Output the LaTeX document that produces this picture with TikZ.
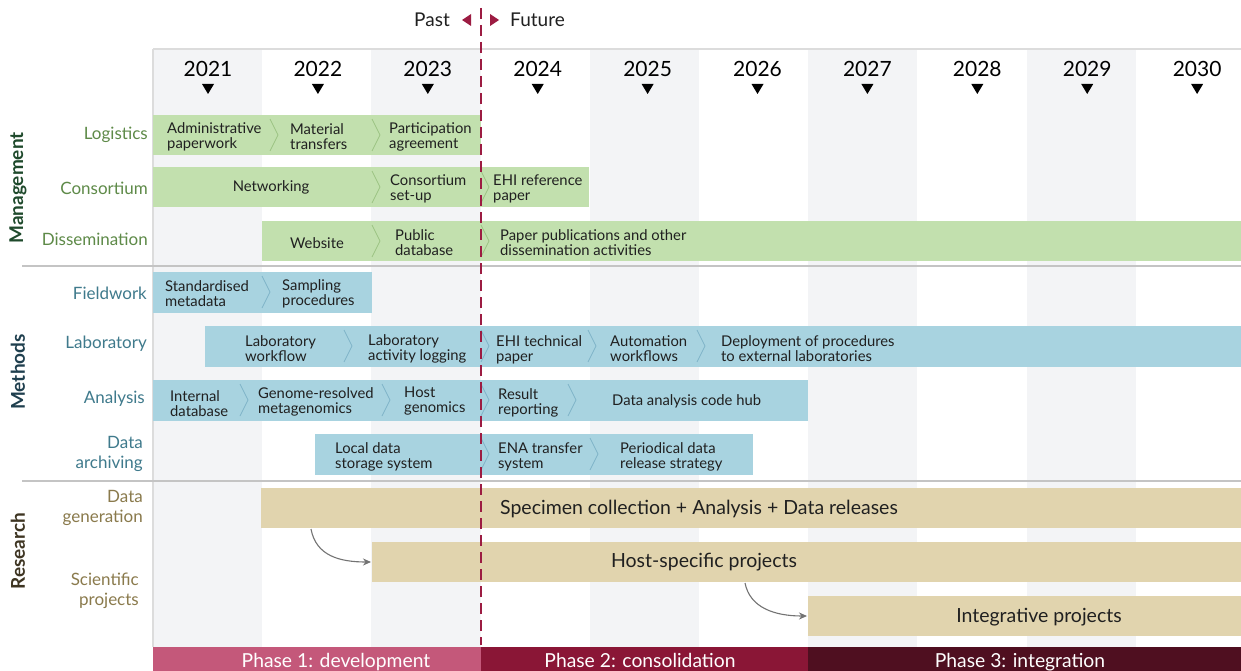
\documentclass[tikz,border=0pt]{standalone}
\usepackage{fontspec}
\setmainfont{Lato}
\usetikzlibrary{arrows.meta}
\definecolor{colshade}{HTML}{F3F4F6}
\definecolor{gridl}{HTML}{DCDCDC}
\definecolor{sepl}{HTML}{C4C4C4}
\definecolor{gfill}{HTML}{C2E0AE}
\definecolor{gchev}{HTML}{9CC383}
\definecolor{bfill}{HTML}{A8D3E0}
\definecolor{bchev}{HTML}{7FB4C8}
\definecolor{tfill}{HTML}{E1D4AE}
\definecolor{crim}{HTML}{9C1C42}
\definecolor{ph1}{HTML}{C4587A}
\definecolor{ph2}{HTML}{8A1636}
\definecolor{ph3}{HTML}{4F0F20}
\definecolor{mgreen}{HTML}{5E8A48}
\definecolor{mteal}{HTML}{3F7A8C}
\definecolor{mtan}{HTML}{8A7A4C}
\definecolor{dgreen}{HTML}{1F4A2C}
\definecolor{dteal}{HTML}{1F3F4E}
\definecolor{dtan}{HTML}{3E3522}
\definecolor{txt}{HTML}{202020}
\tikzset{
  bartext/.style={font=\fontsize{14.8}{15}\selectfont, anchor=west, align=left, inner sep=0pt, text=txt, yshift=-1.5pt},
  bigtext/.style={font=\fontsize{19.5}{20}\selectfont, inner sep=0pt, text=txt},
  rowlab/.style={font=\fontsize{17}{20}\selectfont, anchor=east, align=right, inner sep=0pt},
  seclab/.style={font=\fontsize{19}{20}\selectfont\bfseries, rotate=90, inner sep=0pt},
  yearlab/.style={font=\fontsize{21}{22}\selectfont, inner sep=0pt, text=black},
  phlab/.style={font=\fontsize{19.3}{20}\selectfont, inner sep=0pt, text=white, anchor=base},
  gchevron/.style={draw=gchev, line width=0.8pt},
  bchevron/.style={draw=bchev, line width=0.8pt},
  tanbar/.style={fill=tfill, draw=none, inner sep=0pt, anchor=north west},
  flowarrow/.style={draw=black!55, line width=1.1pt, -{Stealth[length=8pt,width=7pt]}},
}
\newcommand\chv[3]{\draw[#3] (#1,#2-16) -- (#1+8,#2) -- (#1,#2+16);}
\begin{document}
\begin{tikzpicture}[x=1pt,y=-1pt]
\useasboundingbox (0,0) rectangle (1241,671);
\fill[white] (0,0) rectangle (1241,671);
% column shading
\foreach \i in {0,2,4,6,8} {
  \fill[colshade] (153+109.2*\i,49) rectangle (153+109.2*\i+109.2,647);
}
\draw[gridl, line width=1.2pt] (153,49) -- (1241,49);
\draw[gridl, line width=1.2pt] (153,49) -- (153,647);
% years
\foreach \y [count=\k from 0] in {2021,2022,2023,2024,2025,2026,2027,2028,2029,2030} {
  \node[yearlab] (yr\y) at (208+109.9*\k,69) {\y};
  \fill[black] (202+109.9*\k,84) -- (214+109.9*\k,84) -- (208+109.9*\k,94) -- cycle;
}
% separators
\draw[sepl, line width=1.5pt] (22,266) -- (1241,266);
\draw[sepl, line width=1.5pt] (22,481) -- (1241,481);

% ---------- Management ----------
% Logistics
\fill[gfill] (153,115) rectangle (481,155);
\chv{270}{135}{gchevron}
\chv{372}{135}{gchevron}
\node[bartext] (l1) at (167,135) {Administrative\\paperwork};
\node[bartext] (l2) at (290,135) {Material\\transfers};
\node[bartext] (l3) at (389,135) {Participation\\agreement};
% Consortium
\fill[gfill] (153,167) rectangle (589,207);
\chv{372}{187}{gchevron}
\chv{481}{187}{gchevron}
\node[bartext, anchor=center] (c1) at (271,186) {Networking};
\node[bartext] (c2) at (390,187) {Consortium\\set-up};
\node[bartext] (c3) at (493,187) {EHI reference\\paper};
% Dissemination
\fill[gfill] (262,221) rectangle (1241,261);
\chv{372}{241}{gchevron}
\chv{481}{241}{gchevron}
\node[bartext, anchor=center] (d1) at (317,242) {Website};
\node[bartext] (d2) at (395,241) {Public\\database};
\node[bartext] (d3) at (500,241) {Paper publications and other\\dissemination activities};

% ---------- Methods ----------
% Fieldwork
\fill[bfill] (153,272) rectangle (372,313);
\chv{262}{292}{bchevron}
\node[bartext] (f1) at (165,292) {Standardised\\metadata};
\node[bartext] (f2) at (282,292) {Sampling\\procedures};
% Laboratory
\fill[bfill] (205,326) rectangle (1241,367);
\chv{344}{346}{bchevron}
\chv{481}{346}{bchevron}
\chv{588}{346}{bchevron}
\chv{697}{346}{bchevron}
\node[bartext] (lb1) at (245,347) {Laboratory\\workflow};
\node[bartext] (lb2) at (368,347) {Laboratory\\activity logging};
\node[bartext] (lb3) at (496,348) {EHI technical\\paper};
\node[bartext] (lb4) at (610,347) {Automation\\workflows};
\node[bartext] (lb5) at (721,347) {Deployment of procedures\\to external laboratories};
% Analysis
\fill[bfill] (153,380) rectangle (808,421);
\chv{240}{400}{bchevron}
\chv{382}{400}{bchevron}
\chv{481}{400}{bchevron}
\chv{568}{400}{bchevron}
\node[bartext] (a1) at (170,402) {Internal\\database};
\node[bartext] (a2) at (258,400) {Genome-resolved\\metagenomics};
\node[bartext] (a3) at (404,400) {Host\\genomics};
\node[bartext] (a4) at (498,401) {Result\\reporting};
\node[bartext] (a5) at (612,400) {Data analysis code hub};
% Data archiving
\fill[bfill] (315,434) rectangle (753,475);
\chv{481}{454}{bchevron}
\chv{590}{454}{bchevron}
\node[bartext] (da1) at (335,455) {Local data\\storage system};
\node[bartext] (da2) at (498,455) {ENA transfer\\system};
\node[bartext] (da3) at (620,455) {Periodical data\\release strategy};

% ---------- Research ----------
\node[tanbar, minimum width=980pt, minimum height=40pt] (dg) at (261,488) {};
\node[bigtext] (dgt) at (699,509) {Specimen collection + Analysis + Data releases};
\node[tanbar, minimum width=869pt, minimum height=40pt] (hs) at (372,542) {};
\node[bigtext] (hst) at (704,562) {Host-specific projects};
\node[tanbar, minimum width=433pt, minimum height=40pt] (ip) at (808,596) {};
\node[bigtext] (ipt) at (1039,617) {Integrative projects};
\coordinate (dgout) at (311,529);
\coordinate (hsin) at (371,562);
\coordinate (hsout) at (745,583);
\coordinate (ipin) at (807,616);
\draw[flowarrow] (dgout) .. controls (316,556) and (340,562) .. (hsin);
\draw[flowarrow] (hsout) .. controls (750,608) and (775,616) .. (ipin);

% ---------- labels ----------
\node[seclab, text=dgreen] (sm) at (18,188) {Management};
\node[seclab, text=dteal] (smt) at (18,372) {Methods};
\node[seclab, text=dtan] (sr) at (18,551) {Research};
\node[rowlab, text=mgreen] (rl1) at (148,135) {Logistics};
\node[rowlab, text=mgreen] (rl2) at (148,188) {Consortium};
\node[rowlab, text=mgreen] (rl3) at (148,239) {Dissemination};
\node[rowlab, text=mteal] (rl4) at (147,293) {Fieldwork};
\node[rowlab, text=mteal] (rl5) at (147,344) {Laboratory};
\node[rowlab, text=mteal] (rl6) at (145,399) {Analysis};
\node[rowlab, text=mteal] (rl7) at (143,454) {Data\\archiving};
\node[rowlab, text=mtan] (rl8) at (143,508) {Data\\generation};
\node[rowlab, text=mtan] (rl9) at (139,591) {Scientific\\projects};

% ---------- phases ----------
\fill[ph1] (153,647) rectangle (481,671);
\fill[ph2] (481,647) rectangle (808,671);
\fill[ph3] (808,647) rectangle (1241,671);
\node[phlab] (p1) at (336,667) {Phase 1: development};
\node[phlab] (p2) at (640,667) {Phase 2: consolidation};
\node[phlab] (p3) at (1020,667) {Phase 3: integration};

% ---------- past/future ----------
\draw[crim, line width=2pt, dash pattern=on 11pt off 6pt] (481,8) -- (481,645);
\fill[crim] (471,14) -- (471,26) -- (462,20) -- cycle;
\fill[crim] (490,14) -- (490,26) -- (499,20) -- cycle;
\node[font=\fontsize{19}{20}\selectfont, anchor=east, inner sep=0pt, text=txt] (past) at (450,20) {Past};
\node[font=\fontsize{19}{20}\selectfont, anchor=west, inner sep=0pt, text=txt] (fut) at (510,20) {Future};
\end{tikzpicture}
\end{document}
